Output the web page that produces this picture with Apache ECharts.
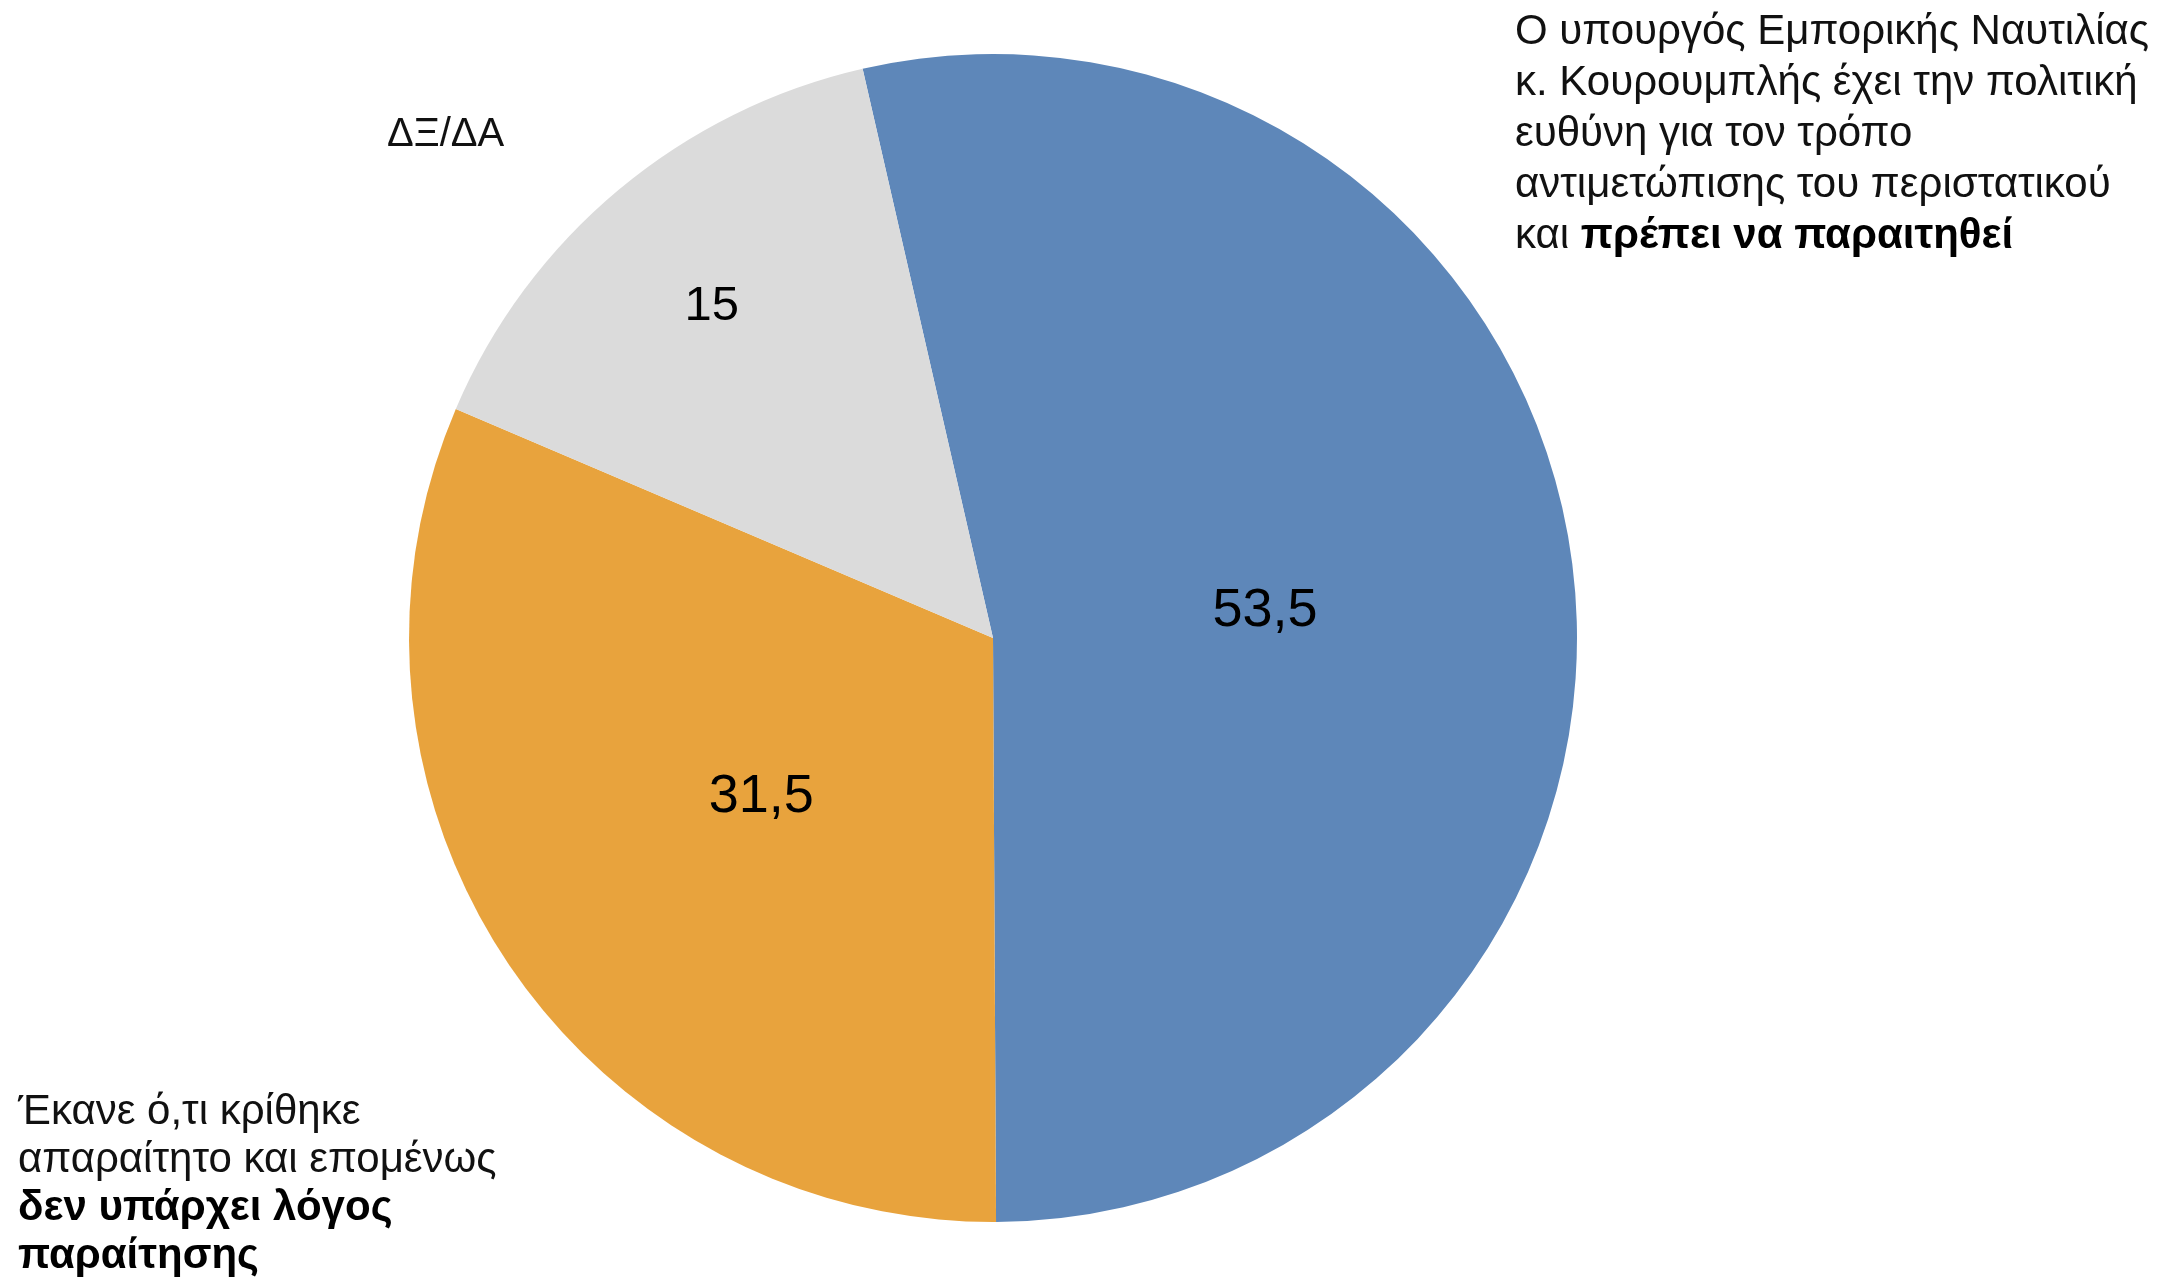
<!DOCTYPE html>
<html><head><meta charset="utf-8">
<script src="https://cdn.jsdelivr.net/npm/echarts@6/dist/echarts.min.js"></script>
<style>html,body{margin:0;padding:0;background:#fff}#c{width:2175px;height:1285px}</style>
</head><body><div id="c"></div>
<script>
const categories = ['Πρέπει να παραιτηθεί', 'Δεν υπάρχει λόγος παραίτησης', 'ΔΞ/ΔΑ'];
const values = [53.5, 31.5, 15];
const colors = ['#5E87B9', '#E8A33D', '#DBDBDB'];
const labelTexts = [
  'Ο υπουργός Εμπορικής Ναυτιλίας\nκ. Κουρουμπλής έχει την πολιτική\nευθύνη για τον τρόπο\nαντιμετώπισης του περιστατικού\nκαι {b|πρέπει να παραιτηθεί}',
  'Έκανε ό,τι κρίθηκε\nαπαραίτητο και επομένως\n{b|δεν υπάρχει λόγος}\n{b|παραίτησης}',
  'ΔΞ/ΔΑ'
];
const FONT = '"Liberation Sans", Arial, sans-serif';
const chart = echarts.init(document.getElementById('c'));
const offsets = [[-21, 7], [14, -4], [-92, -105]];
chart.setOption({
  animation: false,
  series: [{
    type: 'pie',
    center: [993, 638],
    radius: 584,
    startAngle: 102.9,
    clockwise: true,
    label: {
      show: true, position: 'inside', color: '#000',
      fontFamily: FONT, fontSize: 54,
      formatter: p => String(p.value).replace('.', ',')
    },
    labelLine: {show: false},
    emphasis: {disabled: true},
    data: categories.map((c, i) => ({
      name: c, value: values[i],
      itemStyle: {color: colors[i]},
      label: {offset: offsets[i], fontSize: i === 2 ? 49 : 54}
    }))
  }],
  graphic: [
    {type: 'text', left: 1515, top: 7, style: {text: labelTexts[0], fontFamily: FONT, fontSize: 42, lineHeight: 51, fill: '#111',
      rich: {b: {fontFamily: FONT, fontSize: 42, fontWeight: 'bold', lineHeight: 51, fill: '#000'}}}},
    {type: 'text', left: 18, top: 1088, style: {text: labelTexts[1], fontFamily: FONT, fontSize: 42, lineHeight: 48, fill: '#111',
      rich: {b: {fontFamily: FONT, fontSize: 42, fontWeight: 'bold', lineHeight: 48, fill: '#000'}}}},
    {type: 'text', left: 387, top: 115, style: {text: labelTexts[2], fontFamily: FONT, fontSize: 40, fill: '#111'}}
  ]
});
</script></body></html>
